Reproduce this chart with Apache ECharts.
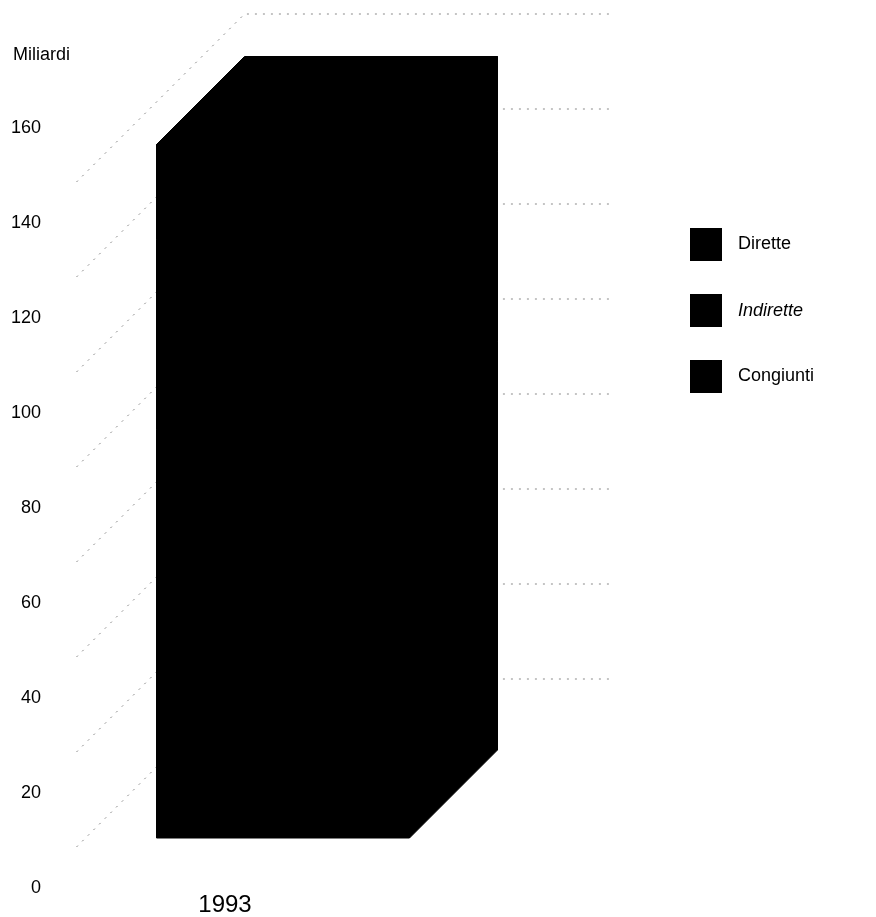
<!DOCTYPE html>
<html>
<head>
<meta charset="utf-8">
<script src="https://cdn.jsdelivr.net/npm/echarts@6/dist/echarts.min.js"></script>
<style>
html,body{margin:0;padding:0;background:#fff;}
#chart{width:876px;height:917px;}
</style>
</head>
<body>
<div id="chart"></div>
<script>
// ---- data ----
const categories = ['1993'];
const seriesNames = ['Dirette', 'Indirette', 'Congiunti'];
const diretteValues = [86];
const indiretteValues = [40];
const congiuntiValues = [20];
const yTickValues = [0, 20, 40, 60, 80, 100, 120, 140, 160];
const backGridValues = [40, 60, 80, 100, 120, 140, 160, 180];
const axisTitle = 'Miliardi';

// ---- layout / style constants ----
const FONT = "'Liberation Sans', Arial, Helvetica, sans-serif";
const BAR_W = 253;      // front face width (px)
const DEPTH = 88;       // 3D extrusion (px)
const SHIFT_X = 58;     // bar placement into the scene
const SHIFT_Y = -50;
const WALL_SHIFT_Y = -19;
const DIAG_LEN = 168;
const GRID_EXT = 112;

const valueLists = [diretteValues, indiretteValues, congiuntiValues];

function stackedData(idx) {
  return categories.map(function (c, j) {
    let base = 0;
    for (let k = 0; k < idx; k++) base += valueLists[k][j];
    return [j, base, base + valueLists[idx][j]];
  });
}

function barRender(isTop) {
  return function (params, api) {
    const cat = api.value(0);
    const pb = api.coord([cat, api.value(1)]);
    const pt = api.coord([cat, api.value(2)]);
    const xl = pb[0] + SHIFT_X - BAR_W / 2;
    const xr = xl + BAR_W;
    const yb = pb[1] + SHIFT_Y;
    const yt = pt[1] + SHIFT_Y;
    const style = { fill: '#000', stroke: '#000', lineWidth: 1 };
    const children = [
      { type: 'rect', shape: { x: xl, y: yt, width: BAR_W, height: yb - yt }, style: style },
      { type: 'polygon', shape: { points: [[xr, yt], [xr + DEPTH, yt - DEPTH], [xr + DEPTH, yb - DEPTH], [xr, yb]] }, style: style }
    ];
    if (isTop) {
      children.push({ type: 'polygon', shape: { points: [[xl, yt], [xl + DEPTH, yt - DEPTH], [xr + DEPTH, yt - DEPTH], [xr, yt]] }, style: style });
    }
    return { type: 'group', children: children };
  };
}

function gridRender(params, api) {
  const p = api.coord([0, api.value(1)]);
  const yb = p[1] + WALL_SHIFT_Y;
  const xbl = p[0] + SHIFT_X - BAR_W / 2 + DEPTH;
  return {
    type: 'polyline',
    shape: { points: [[xbl - DIAG_LEN, yb + DIAG_LEN], [xbl, yb], [xbl + BAR_W + GRID_EXT, yb]] },
    style: { stroke: '#8a8a8a', lineWidth: 1, lineDash: [2, 6], fill: null }
  };
}

const chart = echarts.init(document.getElementById('chart'), null, { renderer: 'canvas' });

const barSeries = seriesNames.map(function (name, i) {
  return {
    name: name,
    type: 'custom',
    z: 3,
    clip: false,
    itemStyle: { color: '#000' },
    encode: { x: 0, y: [1, 2] },
    data: stackedData(i),
    renderItem: barRender(i === seriesNames.length - 1)
  };
});

const option = {
  animation: false,
  backgroundColor: '#fff',
  color: ['#000', '#000', '#000'],
  textStyle: { fontFamily: FONT },
  title: {
    text: axisTitle,
    left: 13, top: 46, padding: 0,
    textStyle: { fontFamily: FONT, fontSize: 18, fontWeight: 'normal', color: '#000' }
  },
  legend: {
    orient: 'vertical',
    left: 690, top: 228,
    itemWidth: 32, itemHeight: 33, itemGap: 33,
    icon: 'rect',
    selectedMode: false,
    padding: 0,
    data: [
      { name: 'Dirette' },
      { name: 'Indirette', textStyle: { fontStyle: 'italic' } },
      { name: 'Congiunti' }
    ],
    textStyle: { fontFamily: FONT, fontSize: 18, color: '#000', padding: [0, 0, 0, 11] }
  },
  grid: { left: 80, right: 506, top: 33, bottom: 29 },
  xAxis: {
    type: 'category',
    data: categories,
    axisLine: { show: false },
    axisTick: { show: false },
    axisLabel: { fontFamily: FONT, fontSize: 24, color: '#000', margin: 5 }
  },
  yAxis: {
    type: 'value',
    min: 0, max: 180, interval: 20,
    axisLine: { show: false },
    axisTick: { show: false },
    splitLine: { show: false },
    axisLabel: {
      fontFamily: FONT, fontSize: 18, color: '#000', margin: 39,
      formatter: function (v) { return yTickValues.indexOf(v) >= 0 ? String(v) : ''; }
    }
  },
  series: [{
    name: 'grid',
    type: 'custom',
    z: 1,
    clip: false,
    silent: true,
    encode: { x: 0, y: 1 },
    data: backGridValues.map(function (v) { return [0, v]; }),
    renderItem: gridRender
  }].concat(barSeries)
};

chart.setOption(option);
</script>
</body>
</html>
